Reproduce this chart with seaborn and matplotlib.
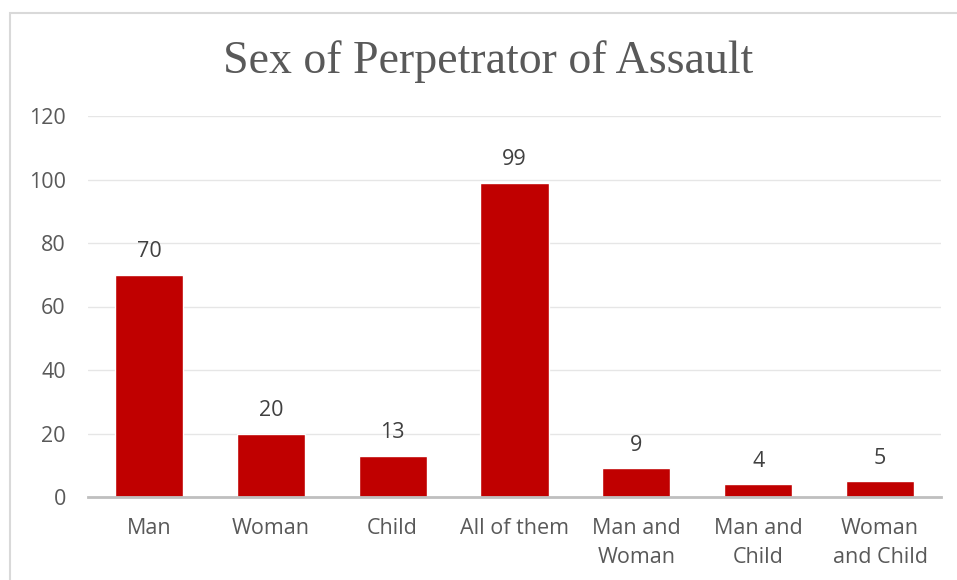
import matplotlib
matplotlib.use("Agg")
import matplotlib.pyplot as plt
import seaborn as sns
import pandas as pd
from matplotlib.patches import Rectangle

categories = ["Man", "Woman", "Child", "All of them", "Man and\nWoman", "Man and\nChild", "Woman\nand Child"]
counts = [70, 20, 13, 99, 9, 4, 5]
y_ticks = [0, 20, 40, 60, 80, 100, 120]

df = pd.DataFrame({"category": categories, "count": counts})

sns.set_theme(style="white")
plt.rcParams["font.family"] = ["Open Sans", "DejaVu Sans"]

fig = plt.figure(figsize=(9.57, 5.8), dpi=100)
ax = fig.add_axes([88 / 957, 1 - 497 / 580, (941 - 88) / 957, (497 - 116) / 580])

sns.barplot(data=df, x="category", y="count", color="#C00000", saturation=1,
            width=0.56, ax=ax, zorder=3)

ax.set_ylim(0, 120)
ax.set_xlim(-0.5, len(categories) - 0.5)
ax.set_yticks(y_ticks)
ax.set_yticklabels([str(v) for v in y_ticks])
ax.grid(axis="y", color="#E6E6E6", linewidth=1.0, zorder=0)
ax.grid(axis="x", visible=False)
for side in ["top", "right", "left"]:
    ax.spines[side].set_visible(False)
ax.spines["bottom"].set_color("#BFBFBF")
ax.spines["bottom"].set_linewidth(2)
ax.spines["bottom"].set_zorder(4)
ax.set_xlabel("")
ax.set_ylabel("")
ax.tick_params(axis="y", length=0, pad=16, labelsize=15.5, labelcolor="#595959")
ax.tick_params(axis="x", length=0, pad=15, labelsize=15.5, labelcolor="#595959")
for lbl in ax.get_xticklabels():
    lbl.set_linespacing(1.5)
    lbl.set_verticalalignment("top")

for i, v in enumerate(counts):
    ax.annotate(str(v), xy=(i, v), xytext=(0, 9), textcoords="offset points",
                ha="center", va="bottom", fontsize=15.5, color="#404040")

fig.text(488 / 957, 1 - 62 / 580, "Sex of Perpetrator of Assault", ha="center", va="center",
         fontsize=33, color="#595959", family=["Liberation Serif", "DejaVu Serif"])

# outer chart frame
fig.patches.append(Rectangle((10 / 957, -0.1), 1.1, 1 - 13 / 580 + 0.1,
                             transform=fig.transFigure, fill=False,
                             edgecolor="#D9D9D9", linewidth=1.5, zorder=0))

fig.savefig("out.png", dpi=100, facecolor="white")
